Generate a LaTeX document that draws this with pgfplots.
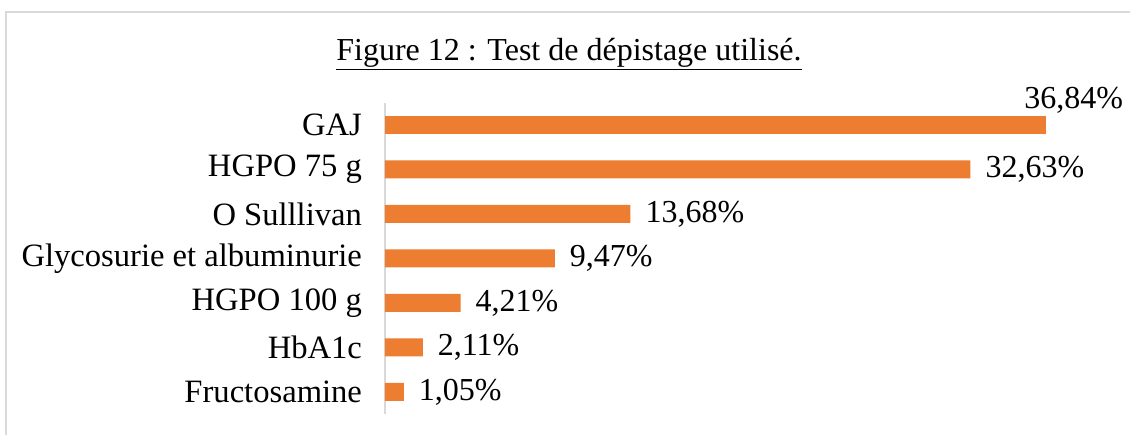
\documentclass[border=0pt]{standalone}
\usepackage{pgfplots}
\pgfplotsset{compat=1.18}
\usepackage{fontspec}
\setmainfont{Liberation Serif}
\definecolor{barorange}{HTML}{ED7D31}
\definecolor{framegray}{HTML}{D9D9D9}
\begin{document}
\begin{tikzpicture}
\path[use as bounding box] (0,0) rectangle (565pt,217.5pt);
% outer frame
\draw[framegray, line width=1.2pt] (3pt,0) -- (3pt,211.5pt) -- (565pt,211.5pt);
\node[font=\fontsize{16}{18}\selectfont, anchor=base] at (284.5pt,187.5pt) {\underline{Figure 12 : Test de dépistage utilisé.}};
\begin{axis}[
    at={(192.5pt,10.4pt)}, anchor=south west,
    scale only axis,
    width=330.5pt, height=155.75pt,
    xbar, bar width=9pt, bar shift=0pt,
    xmin=0, xmax=36.84,
    ymin=-0.5, ymax=6.5,
    axis x line=none,
    axis y line*=left,
    y axis line style={framegray, line width=1.2pt, -},
    ytick={0,...,6},
    yticklabels={Fructosamine, HbA1c, HGPO 100 g, Glycosurie et albuminurie, O Sulllivan, HGPO 75 g, GAJ},
    major tick length=0pt,
    yticklabel style={font=\fontsize{16.3}{18}\selectfont, xshift=-8pt},
    clip=false,
    nodes near coords={\pgfmathprintnumber{\pgfplotspointmeta}\%},
    every node near coord/.append style={font=\fontsize{16}{18}\selectfont, xshift=4pt},
    /pgf/number format/.cd, fixed, fixed zerofill, precision=2, use comma, assume math mode=true,
]
\addplot[fill=barorange, draw=none] coordinates {
    (1.05,0) (2.11,1) (4.21,2) (9.47,3) (13.68,4) (32.63,5)
};
\addplot[fill=barorange, draw=none,
    every node near coord/.append style={anchor=south east, xshift=38pt, yshift=2pt}] coordinates {
    (36.84,6)
};
\end{axis}
\end{tikzpicture}
\end{document}
